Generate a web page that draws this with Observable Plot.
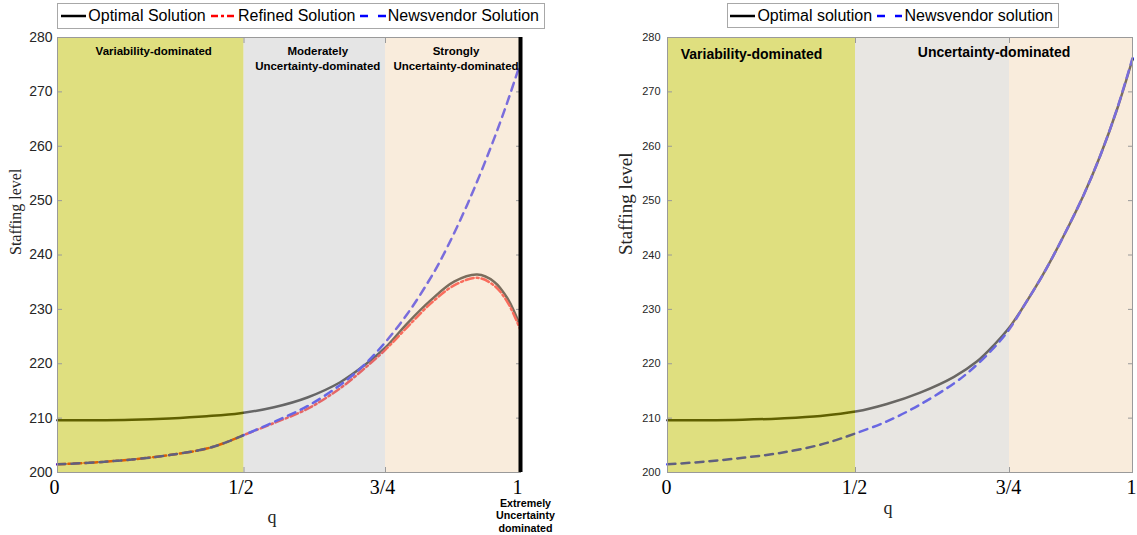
<!DOCTYPE html>
<html><head><meta charset="utf-8">
<script src="https://cdn.jsdelivr.net/npm/d3@7"></script>
<script src="https://cdn.jsdelivr.net/npm/@observablehq/plot@0.6"></script>
<style>
body{margin:0;background:#fff;}
#page{position:relative;width:1137px;height:535px;overflow:hidden;font-family:"Liberation Sans",Arial,sans-serif;}
.panel{position:absolute;top:0;}
.legend{position:absolute;box-sizing:border-box;border:1px solid #a8a8a8;background:#fff;display:flex;align-items:center;font-size:16px;color:#000;white-space:nowrap;}
.legend svg{display:block;margin-right:2px;}
.legend span{margin-right:5px;}
</style></head>
<body><div id="page">
<div id="leftPanel" class="panel" style="left:0"></div>
<div id="rightPanel" class="panel" style="left:580px"></div>
<div id="leftLegend" class="legend" style="left:57px;top:3px;width:488px;height:26px;padding-left:3px"></div>
<div id="rightLegend" class="legend" style="left:727px;top:3px;width:332px;height:25px;padding-left:2px"></div>
</div>
<script>
// ---------- data ----------
const xTicks = [0, 0.5, 0.75, 1];
const xTickLabels = ["0", "1/2", "3/4", "1"];
const yTicks = [200, 210, 220, 230, 240, 250, 260, 270, 280];

// left panel
const leftOptimalQ = [0, 0.1, 0.2, 0.3, 0.4, 0.49, 0.553, 0.612, 0.67, 0.7125, 0.75, 0.79, 0.834, 0.877, 0.92, 0.951, 0.976, 1];
const leftOptimal  = [209.6, 209.6, 209.7, 209.95, 210.35, 210.9, 212.0, 213.8, 216.6, 219.7, 223.0, 227.4, 231.7, 235.1, 236.4, 235.1, 232.0, 226.8];
const leftRefinedQ = [0, 0.1, 0.2, 0.3, 0.4, 0.45, 0.5, 0.553, 0.612, 0.67, 0.7125, 0.75, 0.79, 0.834, 0.877, 0.92, 0.951, 0.976, 1];
const leftRefined  = [201.5, 201.85, 202.4, 203.2, 204.4, 205.5, 206.9, 209.1, 211.7, 215.5, 219.1, 222.6, 226.7, 231.1, 234.4, 235.8, 234.4, 231.3, 226.2];
const leftNewsQ    = [0, 0.1, 0.2, 0.3, 0.4, 0.45, 0.5, 0.553, 0.612, 0.67, 0.7125, 0.75, 0.79, 0.8275, 0.855, 0.902, 0.945, 0.976, 1];
const leftNews     = [201.5, 201.85, 202.4, 203.2, 204.4, 205.5, 206.9, 209.3, 212.2, 216.1, 219.8, 224.0, 229.1, 234.8, 239.6, 249.4, 259.8, 268.2, 275.4];

// right panel
const rightOptimalQ = [0, 0.1, 0.2, 0.3, 0.407, 0.5, 0.551, 0.605, 0.66, 0.697, 0.7245, 0.75, 0.779, 0.82, 0.86, 0.901, 0.935, 0.969, 1];
const rightOptimal  = [209.6, 209.6, 209.7, 209.95, 210.4, 211.2, 212.6, 214.7, 217.6, 220.4, 223.4, 226.7, 230.6, 236.7, 243.5, 251.1, 258.4, 266.9, 276.0];
const rightNewsQ    = [0, 0.1, 0.2, 0.3, 0.4, 0.45, 0.5, 0.551, 0.605, 0.66, 0.687, 0.7245, 0.75, 0.779, 0.82, 0.86, 0.901, 0.935, 0.969, 1];
const rightNews     = [201.5, 202.0, 202.7, 203.6, 205.0, 206.0, 207.2, 209.4, 212.5, 216.4, 218.8, 222.9, 226.4, 230.6, 236.7, 243.5, 251.1, 258.4, 267.0, 276.2];

// regions
const leftRegionStart = [0, 0.5, 0.75];
const leftRegionEnd   = [0.5, 0.75, 1];
const leftRegionLabels = ["Variability-dominated", "Moderately\nUncertainty-dominated", "Strongly\nUncertainty-dominated"];
const extremeLabel = "Extremely\nUncertainty\ndominated";
const rightRegionStart = [0, 0.5, 0.75];
const rightRegionEnd   = [0.5, 0.75, 1];
const rightLabelQ = [0.25, 0.725];
const rightRegionLabels = ["Variability-dominated", "Uncertainty-dominated"];

const leftLegendLabels = ["Optimal Solution", "Refined Solution", "Newsvendor Solution"];
const rightLegendLabels = ["Optimal solution", "Newsvendor solution"];
const yTitle = "Staffing level";
const xTitle = "q";

// ---------- styles ----------
const SERIF = "'Liberation Serif','Times New Roman',serif";
const SANS = "'Liberation Sans',Arial,sans-serif";
const leftPatch = ["#bfbf00", "#cbcbcb", "#f3d9b9"];
const rightPatch = ["#bfbf00", "#d1cdc5", "#f3d9b9"];
const OPT = {stroke: "#000000", dash: null};
const REF = {stroke: "#ff0000", dash: "8,3,2,3"};
const NEWS = {stroke: "#0000ff", dash: "8,6"};
const AXIS = "#9a9a9a";

const zip = (qs, vs) => qs.map((q, i) => ({q, v: vs[i]}));
const regions = (s, e, c) => s.map((x1, i) => ({x1, x2: e[i], fill: c[i]}));
const fmtX = d => xTickLabels[xTicks.indexOf(d)];

function lineMark(data, st) {
  return Plot.line(data, {x: "q", y: "v", stroke: st.stroke, strokeWidth: 2.5, strokeDasharray: st.dash, curve: "catmull-rom"});
}
function frameAxes(yFont, yPad) {
  return [
    Plot.frame({stroke: AXIS, strokeWidth: 1}),
    Plot.axisY({ticks: yTicks, tickSize: 0, tickPadding: yPad, fontSize: yFont, fill: "#262626", label: null, fontFamily: SANS}),
    Plot.axisY({ticks: yTicks, anchor: "left", tickSize: -5, tickFormat: () => "", stroke: AXIS, label: null}),
    Plot.axisY({ticks: yTicks, anchor: "right", tickSize: -5, tickFormat: () => "", stroke: AXIS, label: null}),
    Plot.axisX({ticks: xTicks, anchor: "bottom", tickSize: -5, tickFormat: () => "", stroke: AXIS, label: null}),
    Plot.axisX({ticks: xTicks, anchor: "top", tickSize: -5, tickFormat: () => "", stroke: AXIS, label: null})
  ];
}

// ---------- left panel ----------
const leftLabelData = leftRegionLabels.map((label, i) => ({label, q: (leftRegionStart[i] + leftRegionEnd[i]) / 2}));
const left = Plot.plot({
  width: 565, height: 535,
  marginTop: 37, marginBottom: 63, marginLeft: 57, marginRight: 45,
  style: {background: "transparent", fontFamily: SANS, overflow: "visible"},
  x: {type: "linear", domain: xTicks, range: [57, 243.5, 385, 520]},
  y: {domain: [200, 280]},
  color: {type: "identity"},
  marks: [
    lineMark(zip(leftOptimalQ, leftOptimal), OPT),
    lineMark(zip(leftRefinedQ, leftRefined), REF),
    lineMark(zip(leftNewsQ, leftNews), NEWS),
    Plot.rect(regions(leftRegionStart, leftRegionEnd, leftPatch), {x1: "x1", x2: "x2", fill: "fill", fillOpacity: 0.5}),
    ...frameAxes(14, 5),
    Plot.axisX({ticks: xTicks, tickFormat: fmtX, tickSize: 0, tickPadding: 7, fontSize: 20, fontFamily: SERIF, fill: "#000", label: null, dx: -3}),
    Plot.ruleX([1], {stroke: "#000", strokeWidth: 4}),
    Plot.text(leftLabelData, {x: "q", text: "label", frameAnchor: "top", lineAnchor: "top", dy: 7, dx: 3, fontWeight: "bold", fontSize: 11.5, lineHeight: 1.3, fill: "#000"}),
    Plot.text([{q: 1, label: extremeLabel}], {x: "q", text: "label", frameAnchor: "bottom", lineAnchor: "top", dy: 25, dx: 5, fontWeight: "bold", fontSize: 10.7, lineHeight: 1.2, fill: "#000"}),
    Plot.text([yTitle], {frameAnchor: "left", rotate: -90, dx: -42, fontFamily: SERIF, fontSize: 16, fill: "#262626"}),
    Plot.text([xTitle], {frameAnchor: "bottom", dx: -17, dy: 50, fontFamily: SERIF, fontSize: 18, fill: "#262626"})
  ]
});
document.getElementById("leftPanel").appendChild(left);

// ---------- right panel ----------
const rightLabelData = rightRegionLabels.map((label, i) => ({label, q: rightLabelQ[i]}));
const right = Plot.plot({
  width: 557, height: 535,
  marginTop: 37, marginBottom: 63, marginLeft: 87, marginRight: 5,
  style: {background: "transparent", fontFamily: SANS, overflow: "visible"},
  x: {type: "linear", domain: xTicks, range: [87, 275, 429, 552]},
  y: {domain: [200, 280]},
  color: {type: "identity"},
  marks: [
    lineMark(zip(rightOptimalQ, rightOptimal), OPT),
    lineMark(zip(rightNewsQ, rightNews), NEWS),
    Plot.rect(regions(rightRegionStart, rightRegionEnd, rightPatch), {x1: "x1", x2: "x2", fill: "fill", fillOpacity: 0.5}),
    ...frameAxes(11, 7),
    Plot.axisX({ticks: xTicks, tickFormat: fmtX, tickSize: 0, tickPadding: 7, fontSize: 20, fontFamily: SERIF, fill: "#000", label: null, dx: -1}),
    Plot.text(rightLabelData.slice(0, 1), {x: "q", text: "label", frameAnchor: "top", lineAnchor: "top", dy: 12, dx: -10, fontWeight: "bold", fontSize: 14, fill: "#000"}),
    Plot.text(rightLabelData.slice(1), {x: "q", text: "label", frameAnchor: "top", lineAnchor: "top", dy: 10, fontWeight: "bold", fontSize: 14, fill: "#000"}),
    Plot.text([yTitle], {frameAnchor: "left", rotate: -90, dx: -41.5, fontFamily: SERIF, fontSize: 19, fill: "#262626"}),
    Plot.text([xTitle], {frameAnchor: "bottom", dx: -12, dy: 41, fontFamily: SERIF, fontSize: 18, fill: "#262626"})
  ]
});
document.getElementById("rightPanel").appendChild(right);

// ---------- legends ----------
function buildLegend(id, labels, styles) {
  const box = document.getElementById(id);
  labels.forEach((label, i) => {
    const st = styles[i];
    const svg = d3.create("svg").attr("width", 26).attr("height", 10);
    svg.append("line").attr("x1", 0).attr("x2", 26).attr("y1", 5).attr("y2", 5)
      .attr("stroke", st.stroke).attr("stroke-width", 2.5)
      .attr("stroke-dasharray", st.dash);
    box.appendChild(svg.node());
    const span = document.createElement("span");
    span.textContent = label;
    box.appendChild(span);
  });
}
buildLegend("leftLegend", leftLegendLabels, [OPT, {stroke: "#ff0000", dash: "7,3,3,3"}, {stroke: "#0000ff", dash: "8,10"}]);
buildLegend("rightLegend", rightLegendLabels, [OPT, {stroke: "#0000ff", dash: "8,10"}]);
</script>
</body></html>
